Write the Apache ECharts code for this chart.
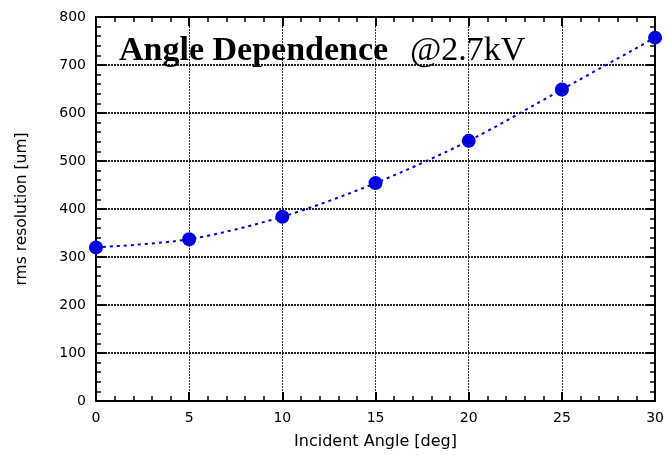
<!DOCTYPE html>
<html><head><meta charset="utf-8">
<script src="https://cdn.jsdelivr.net/npm/echarts@6/dist/echarts.min.js"></script>
<style>html,body{margin:0;padding:0;background:#fff}#c{width:667px;height:455px}</style>
</head><body><div id="c"></div>
<script>
const angles = [0, 5, 10, 15, 20, 25, 30];
const resolution = [320, 337, 384, 454, 542, 649, 757];
const xTicks = [0, 5, 10, 15, 20, 25, 30];
const yTicks = [0, 100, 200, 300, 400, 500, 600, 700, 800];
const titleBold = 'Angle Dependence';
const titleRegular = '@2.7kV';
const xName = 'Incident Angle [deg]';
const yName = 'rms resolution [um]';

const chart = echarts.init(document.getElementById('c'));
const font = 'DejaVu Sans';
const axisBase = (show) => ({
  type: 'value',
  axisLine: {show: true, onZero: false, lineStyle: {color: '#000', width: 2}},
  axisTick: {show: true, inside: true, length: 9, lineStyle: {color: '#000', width: 2}},
  minorTick: {show: true, splitNumber: 5, length: 5, lineStyle: {color: '#000', width: 1.5}},
  axisLabel: {show: show, color: '#000', fontFamily: font, fontSize: 14, margin: 10},
  splitLine: {show: false}
});
chart.setOption({
  animation: false,
  grid: {left: 96, right: 7, top: 17, bottom: 53, containLabel: false},
  xAxis: [
    Object.assign(axisBase(true), {min: xTicks[0], max: xTicks[xTicks.length-1], interval: 5, position: 'bottom',
      name: xName, nameLocation: 'middle', nameGap: 33,
      nameTextStyle: {color: '#000', fontFamily: font, fontSize: 16},
      splitLine: {show: true, lineStyle: {color: '#333', type: [2, 1], width: 1}}}),
    Object.assign(axisBase(false), {min: xTicks[0], max: xTicks[xTicks.length-1], interval: 5, position: 'top'})
  ],
  yAxis: [
    Object.assign(axisBase(true), {min: yTicks[0], max: yTicks[yTicks.length-1], interval: 100, position: 'left',
      name: yName, nameLocation: 'middle', nameGap: 66,
      nameTextStyle: {color: '#000', fontFamily: font, fontSize: 15.5},
      splitLine: {show: true, lineStyle: {color: '#222', type: [2, 1], width: 2}}}),
    Object.assign(axisBase(false), {min: yTicks[0], max: yTicks[yTicks.length-1], interval: 100, position: 'right'})
  ],
  graphic: [{
    type: 'text', left: 119, top: 34, z: 10,
    style: {text: titleBold, fontFamily: 'Liberation Serif', fontWeight: 'bold', fontSize: 34, fill: '#000'}
  }, {
    type: 'text', left: 410, top: 34, z: 10,
    style: {text: titleRegular, fontFamily: 'Liberation Serif', fontWeight: 'normal', fontSize: 34, fill: '#000'}
  }],
  series: [{
    type: 'line',
    data: angles.map((a, i) => [a, resolution[i]]),
    smooth: 0.3,
    symbol: 'circle', symbolSize: 14,
    itemStyle: {color: '#0000dd'},
    lineStyle: {color: '#0000dd', width: 2, type: [3, 4]},
    clip: false, z: 5
  }]
});
</script></body></html>
